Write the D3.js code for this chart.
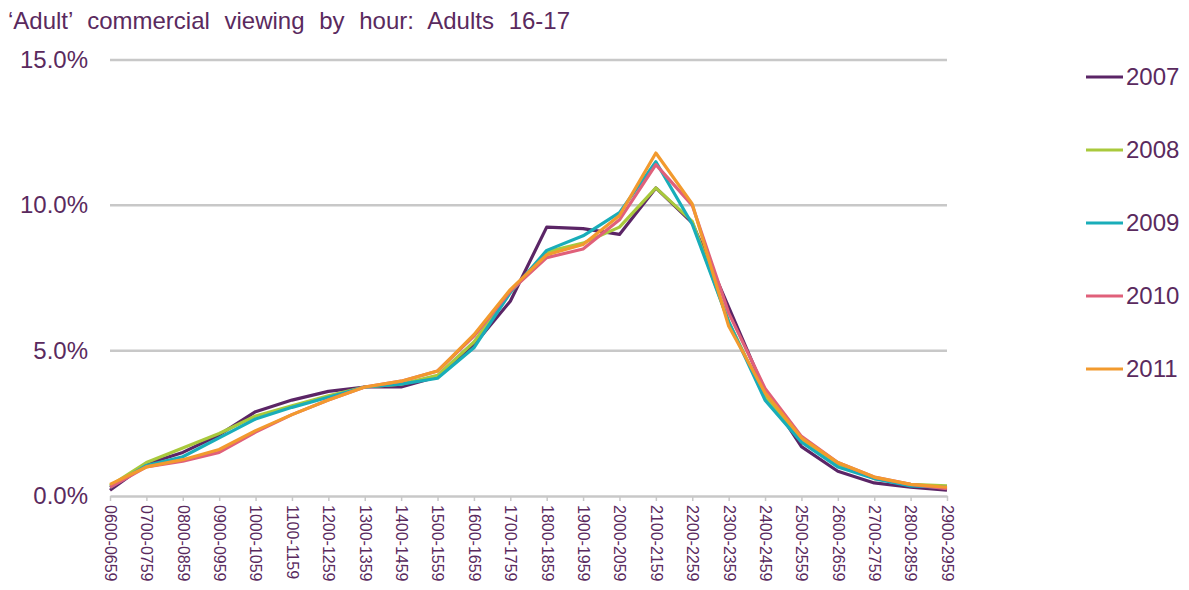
<!DOCTYPE html>
<html>
<head>
<meta charset="utf-8">
<script src="https://cdn.jsdelivr.net/npm/d3@7"></script>
<style>
  body { margin: 0; background: #fff; }
  text { font-family: "Liberation Sans", Arial, sans-serif; fill: #5a2a5e; }
</style>
</head>
<body>
<svg id="graph"></svg>
<script>
//data
var hours = ["0600-0659","0700-0759","0800-0859","0900-0959","1000-1059","1100-1159",
  "1200-1259","1300-1359","1400-1459","1500-1559","1600-1659","1700-1759",
  "1800-1859","1900-1959","2000-2059","2100-2159","2200-2259","2300-2359",
  "2400-2459","2500-2559","2600-2659","2700-2759","2800-2859","2900-2959"]
var years = ["2007","2008","2009","2010","2011"]
var v2007 = [0.2,1.1,1.5,2.1,2.9,3.3,3.6,3.75,3.75,4.1,5.2,6.7,9.25,9.2,9.0,10.6,9.4,6.5,3.6,1.7,0.85,0.45,0.3,0.2]
var v2008 = [0.35,1.15,1.65,2.15,2.75,3.1,3.45,3.75,3.85,4.15,5.3,7.0,8.4,8.7,9.25,10.6,9.45,6.0,3.4,1.9,1.1,0.6,0.4,0.35]
var v2009 = [0.3,1.05,1.35,2.0,2.65,3.05,3.4,3.75,3.85,4.05,5.1,7.0,8.45,8.95,9.75,11.5,9.35,6.0,3.3,1.85,1.0,0.6,0.35,0.3]
var v2010 = [0.3,1.0,1.2,1.5,2.2,2.8,3.3,3.75,3.95,4.3,5.5,7.05,8.2,8.5,9.5,11.4,10.0,6.3,3.7,2.05,1.15,0.65,0.4,0.25]
var v2011 = [0.4,1.0,1.25,1.6,2.25,2.8,3.3,3.75,3.95,4.3,5.55,7.1,8.3,8.65,9.65,11.8,10.05,5.85,3.55,2.0,1.15,0.65,0.4,0.3]
var yTicks = [0,5,10,15]
var colors = ["#5b2566","#a9c93c","#19adb9","#e0607a","#f29a2e"]
var series = [v2007,v2008,v2009,v2010,v2011]

var svg = d3.select('#graph')
  .attr('width',1189)
  .attr('height',590)

//scales
var x = d3.scalePoint().domain(hours).range([110,947])
var y = d3.scaleLinear().domain([0,15]).range([496,60])

//title
svg.append('text')
  .attr('x',8)
  .attr('y',29)
  .style('font-size','24px')
  .style('word-spacing','8px')
  .text('\u2018Adult\u2019 commercial viewing by hour: Adults 16-17')

//gridlines
svg.append('g')
  .selectAll('line')
  .data(yTicks.filter(function(d){ return d>0 }))
  .enter()
  .append('line')
  .attr('x1',110).attr('x2',947)
  .attr('y1',function(d){ return y(d) })
  .attr('y2',function(d){ return y(d) })
  .style('stroke','#c8c8c8')
  .style('stroke-width',2.5)

//y labels
svg.append('g')
  .selectAll('text')
  .data(yTicks)
  .enter()
  .append('text')
  .attr('x',88)
  .attr('y',function(d){ return y(d)+8 })
  .attr('text-anchor','end')
  .style('font-size','24px')
  .text(function(d){ return d.toFixed(1)+'%' })

//x axis
var xaxis = svg.append('g')
  .attr('transform','translate(0,496)')
  .call(d3.axisBottom(x).tickSize(5).tickSizeOuter(0).tickPadding(10))
xaxis.select('.domain').style('stroke','#c8c8c8').style('stroke-width',2.5)
xaxis.selectAll('.tick line').style('stroke','#c8c8c8').style('stroke-width',1.5)
xaxis.selectAll('.tick text')
  .attr('transform','rotate(90)')
  .attr('x',9)
  .attr('y',0)
  .attr('dy','0.35em')
  .attr('text-anchor','start')
  .style('font-size','16px')
  .style('font-family','"Liberation Sans", Arial, sans-serif')
  .style('fill','#5a2a5e')

//lines
var line = d3.line()
  .x(function(d,i){ return x(hours[i]) })
  .y(function(d){ return y(d) })

svg.append('g')
  .selectAll('path')
  .data(series)
  .enter()
  .append('path')
  .attr('d',line)
  .style('fill','none')
  .style('stroke',function(d,i){ return colors[i] })
  .style('stroke-width',3.2)
  .style('stroke-linejoin','round')

//legend
var legend = svg.append('g')
  .selectAll('g')
  .data(years)
  .enter()
  .append('g')
  .attr('transform',function(d,i){ return 'translate(1086,'+(77+i*73)+')' })
legend.append('line')
  .attr('x1',0).attr('x2',37)
  .style('stroke',function(d,i){ return colors[i] })
  .style('stroke-width',3)
legend.append('text')
  .attr('x',40)
  .attr('y',8)
  .style('font-size','24px')
  .text(function(d){ return d })
</script>
</body>
</html>
